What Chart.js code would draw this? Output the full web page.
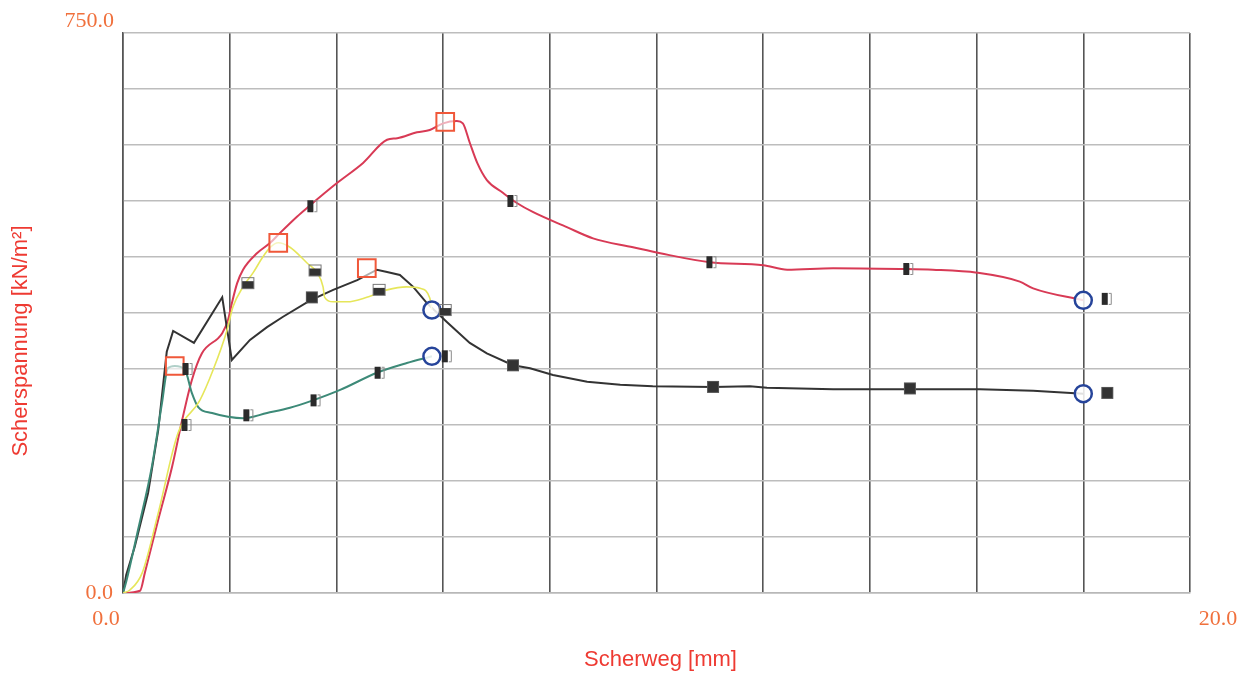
<!DOCTYPE html>
<html>
<head>
<meta charset="utf-8">
<script src="https://cdn.jsdelivr.net/npm/chart.js@4.4.0/dist/chart.umd.min.js"></script>
<style>
  html, body { margin: 0; padding: 0; background: #ffffff; }
  #wrap { width: 1247px; height: 674px; }
</style>
</head>
<body>
<div id="wrap"><canvas id="c" width="1247" height="674"></canvas></div>
<script>
// Axis ranges and labels
const xRange = [0, 20];
const yRange = [0, 750];
const xTickLabels = ['0.0', '20.0'];
const yTickLabels = ['0.0', '750.0'];
const xTitle = 'Scherweg [mm]';
const yTitle = 'Scherspannung [kN/m²]';

// Shear curves: displacement [mm] and shear stress [kN/m²]
const redX = [0, 0.32, 0.41, 0.66, 0.92, 1.11, 1.29, 1.48, 1.86, 1.97, 2.04, 2.14, 2.25, 2.51, 2.76, 2.94, 3.26, 3.47, 4.01, 4.50, 4.95, 5.14, 5.51, 5.75, 6.00, 6.26, 6.37, 6.50, 6.64, 6.82, 7.12, 7.39, 7.69, 8.32, 8.81, 9.56, 10.07, 11.00, 12.00, 12.45, 13.31, 14.56, 15.18, 16.01, 16.81, 17.06, 18.0];
const redY = [0, 3, 27, 98, 169, 232, 285, 321, 348, 366, 388, 415, 433, 455, 469, 482, 504, 517, 549, 576, 607, 609, 617, 620, 629, 632, 629, 603, 576, 553, 536, 522, 510, 490, 475, 463, 455, 443, 439, 433, 435, 434, 433, 429, 417, 408, 392];

const blackX = [0, 0.06, 0.22, 0.47, 0.66, 0.82, 0.94, 1.33, 1.86, 2.04, 2.38, 2.70, 3.00, 3.51, 3.94, 4.39, 4.76, 4.95, 5.19, 5.44, 5.70, 6.07, 6.50, 6.82, 7.31, 7.63, 8.06, 8.70, 9.32, 9.93, 11.06, 11.75, 12.07, 13.31, 14.75, 16.06, 17.06, 18.0];
const blackY = [0, 24, 62, 134, 218, 323, 351, 335, 396, 312, 339, 356, 370, 392, 406, 419, 433, 430, 426, 410, 388, 363, 335, 321, 305, 301, 292, 283, 279, 277, 276, 277, 275, 273, 273, 273, 271, 267];

const yellowX = [0, 0.13, 0.36, 0.66, 1.03, 1.44, 1.69, 1.95, 2.06, 2.25, 2.44, 2.62, 2.76, 2.91, 3.13, 3.45, 3.64, 3.75, 3.78, 3.94, 4.20, 4.57, 4.95, 5.32, 5.57, 5.75, 5.79];
const yellowY = [0, 4, 27, 107, 214, 258, 299, 352, 383, 410, 429, 450, 463, 469, 463, 442, 429, 410, 396, 390, 390, 396, 406, 410, 408, 395, 379];

const tealX = [0, 0.06, 0.28, 0.54, 0.73, 0.84, 0.97, 1.16, 1.29, 1.41, 1.67, 1.97, 2.25, 2.70, 3.13, 3.56, 4.07, 4.76, 5.32, 5.79];
const tealY = [0, 15, 84, 169, 254, 301, 304, 299, 268, 249, 241, 236, 234, 241, 248, 258, 272, 295, 308, 317];

// Peak markers (hollow squares) and end markers (hollow circles)
const peakX = [0.97, 2.91, 4.57, 6.04];
const peakY = [304, 469, 435, 631];
const endX = [5.79, 5.79, 18.0, 18.0];
const endY = [379, 317, 392, 267];

// Curve tag markers
const redTagX = [1.18, 3.54, 7.29, 11.02, 14.71, 18.43];
const redTagY = [225, 518, 525, 443, 434, 394];
const blackTagX = [3.54, 7.31, 11.06, 14.75, 18.45];
const blackTagY = [396, 305, 276, 274, 268];
const yellowTagX = [2.34, 3.60, 4.80, 6.04];
const yellowTagY = [415, 432, 406, 379];
const tealTagX = [1.20, 2.34, 3.60, 4.80, 6.06];
const tealTagY = [300, 238, 258, 295, 317];

const pts = (xs, ys) => xs.map((x, i) => ({ x: x, y: ys[i] }));

// Small bitmap glyphs used as point styles
function tagNarrow() {
  const c = document.createElement('canvas');
  c.width = 13; c.height = 14;
  const g = c.getContext('2d');
  g.fillStyle = '#2a2a2a';
  g.fillRect(2, 1, 6, 12);
  g.strokeStyle = '#8a8a8a';
  g.lineWidth = 1;
  g.beginPath();
  g.moveTo(9, 1.5); g.lineTo(11.5, 1.5); g.lineTo(11.5, 12.5); g.lineTo(9, 12.5);
  g.stroke();
  return c;
}
function tagSolid() {
  const c = document.createElement('canvas');
  c.width = 14; c.height = 14;
  const g = c.getContext('2d');
  g.fillStyle = '#333333';
  g.fillRect(1, 1, 12, 12);
  g.strokeStyle = '#555555';
  g.strokeRect(1.5, 1.5, 11, 11);
  return c;
}
function tagHalf() {
  const c = document.createElement('canvas');
  c.width = 15; c.height = 14;
  const g = c.getContext('2d');
  g.fillStyle = '#333333';
  g.fillRect(1, 5, 13, 8);
  g.strokeStyle = '#777777';
  g.lineWidth = 1;
  g.strokeRect(1.5, 1.5, 12, 11);
  return c;
}

const tickColor = '#f0703c';
const titleColor = '#ee3a32';

const axisText = {
  id: 'axisText',
  afterDraw(chart) {
    const { ctx } = chart;
    const x = chart.scales.x, y = chart.scales.y;
    ctx.save();
    ctx.fillStyle = tickColor;
    ctx.font = '22px "Liberation Serif", "Times New Roman", serif';
    ctx.textBaseline = 'middle';
    ctx.textAlign = 'right';
    ctx.fillText(yTickLabels[1], x.left - 9, y.getPixelForValue(yRange[1]) - 12);
    ctx.fillText(yTickLabels[0], x.left - 10, y.getPixelForValue(yRange[0]));
    ctx.textAlign = 'center';
    ctx.fillText(xTickLabels[0], x.getPixelForValue(xRange[0]) - 17, y.bottom + 26);
    ctx.fillText(xTickLabels[1], x.getPixelForValue(xRange[1]) + 28, y.bottom + 26);

    ctx.fillStyle = titleColor;
    ctx.font = '22px "Liberation Sans", Arial, sans-serif';
    ctx.fillText(xTitle, (x.left + x.right) / 2 + 4, y.bottom + 67);
    ctx.translate(21, (y.top + y.bottom) / 2 + 28);
    ctx.rotate(-Math.PI / 2);
    ctx.fillText(yTitle, 0, 0);
    ctx.restore();
  }
};

const lineDs = (data, color, width, smooth) => ({
  type: 'line',
  data: data,
  borderColor: color,
  borderWidth: width,
  pointRadius: 0,
  tension: 0,
  cubicInterpolationMode: smooth ? 'monotone' : 'default',
  fill: false,
  order: 2
});
const markDs = (data, style, radius, border, fillC, bw) => ({
  type: 'scatter',
  data: data,
  pointStyle: style,
  pointRadius: radius,
  pointBorderColor: border,
  pointBackgroundColor: fillC,
  pointBorderWidth: bw,
  showLine: false,
  order: 1
});

const narrow = tagNarrow(), solid = tagSolid(), half = tagHalf();

new Chart(document.getElementById('c'), {
  type: 'scatter',
  data: {
    datasets: [
      lineDs(pts(yellowX, yellowY), '#e6e65a', 1.6, true),
      lineDs(pts(tealX, tealY), '#3d8a78', 2, true),
      lineDs(pts(blackX, blackY), '#333333', 2, false),
      lineDs(pts(redX, redY), '#d83a55', 2, true),
      markDs(pts(redTagX, redTagY), narrow, 6, '#000', '#000', 0),
      markDs(pts(tealTagX, tealTagY), narrow, 6, '#000', '#000', 0),
      markDs(pts(yellowTagX, yellowTagY), half, 6, '#000', '#000', 0),
      markDs(pts(blackTagX, blackTagY), solid, 6, '#000', '#000', 0),
      markDs(pts(peakX, peakY), 'rect', 12.5, '#f0583a', 'rgba(255,255,255,0.6)', 2),
      markDs(pts(endX, endY), 'circle', 8.5, '#26449a', 'rgba(255,255,255,0.85)', 2.5)
    ]
  },
  options: {
    responsive: false,
    animation: false,
    layout: { padding: { left: 123, right: 57, top: 33, bottom: 81 } },
    plugins: { legend: { display: false }, tooltip: { enabled: false } },
    scales: {
      x: {
        type: 'linear', min: xRange[0], max: xRange[1],
        ticks: { display: false, stepSize: 2 },
        grid: { color: '#555555', lineWidth: 1.6, drawTicks: false },
        border: { color: '#b8b8b8', width: 1.5 }
      },
      y: {
        type: 'linear', min: yRange[0], max: yRange[1],
        ticks: { display: false, stepSize: 75 },
        grid: { color: '#bdbdbd', lineWidth: 1.5, drawTicks: false },
        border: { color: '#555555', width: 1.5 }
      }
    }
  },
  plugins: [axisText]
});
</script>
</body>
</html>
